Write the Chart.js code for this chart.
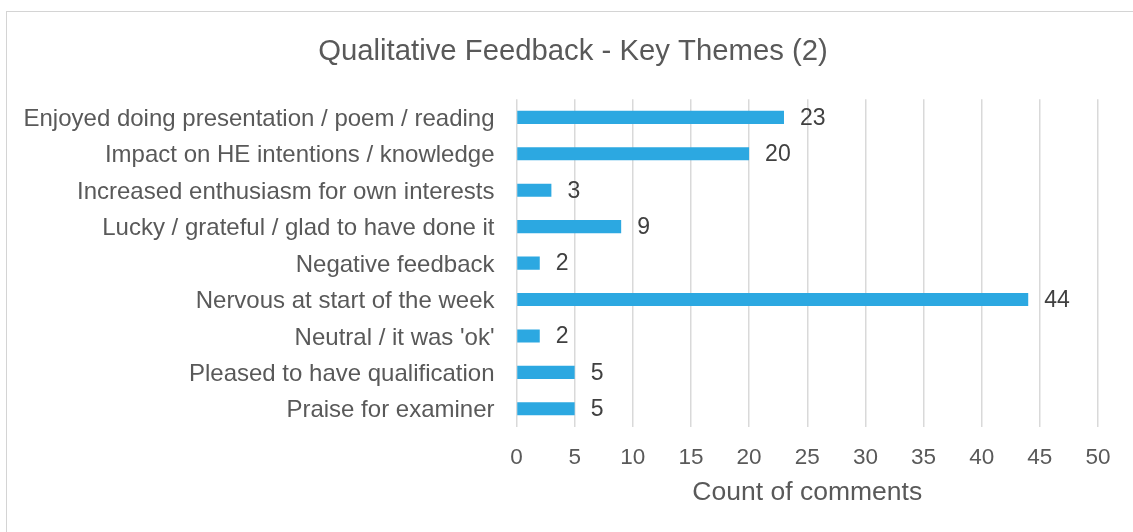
<!DOCTYPE html>
<html>
<head>
<meta charset="utf-8">
<script src="https://cdn.jsdelivr.net/npm/chart.js@4/dist/chart.umd.min.js"></script>
<style>
  html, body { margin: 0; padding: 0; background: #fff; overflow: hidden; }
  #frame { position: absolute; left: 6px; top: 11px; width: 1200px; height: 600px;
           border-left: 1px solid #d4d4d4; border-top: 1px solid #d4d4d4; }
  #wrap { position: absolute; left: 0; top: 0; width: 1133px; height: 532px; }
</style>
</head>
<body>
<div id="frame"></div>
<div id="wrap"><canvas id="themesChart"></canvas></div>
<script>
// categories top to bottom
const themes = [
    'Enjoyed doing presentation / poem / reading',
    'Impact on HE intentions / knowledge',
    'Increased enthusiasm for own interests',
    'Lucky / grateful / glad to have done it',
    'Negative feedback',
    'Nervous at start of the week',
    "Neutral / it was 'ok'",
    'Pleased to have qualification',
    'Praise for examiner'
];
const commentCounts = [23, 20, 3, 9, 2, 44, 2, 5, 5];
const xTicks = [0, 5, 10, 15, 20, 25, 30, 35, 40, 45, 50];

const chartTitle = 'Qualitative Feedback - Key Themes (2)';
const xAxisTitle = 'Count of comments';

const FONT = '"Liberation Sans", Arial, sans-serif';
const PAD_LEFT = 10;

// draws the number at the end of each bar
const barValues = {
    id: 'barValues',
    afterLayout(chart) {
        // title is centred on the whole chart box, not the padded area
        const t = chart.titleBlock;
        if (t) { t.left = 13; t.right = 1133; t.width = 1120; }
    },
    afterDatasetsDraw(chart) {
        const ctx = chart.ctx;
        ctx.save();
        ctx.font = '23px ' + FONT;
        ctx.fillStyle = '#404040';
        ctx.textAlign = 'left';
        ctx.textBaseline = 'middle';
        chart.data.datasets.forEach((ds, i) => {
            chart.getDatasetMeta(i).data.forEach((bar, j) => {
                ctx.fillText(String(ds.data[j]), bar.x + 16, bar.y + 1);
            });
        });
        ctx.restore();
    }
};

const data = {
    labels: themes,
    datasets: [{
        data: commentCounts,
        backgroundColor: '#2ca8e1',
        borderWidth: 0,
        categoryPercentage: 0.36,
        barPercentage: 1
    }]
};

const options = {
    indexAxis: 'y',
    responsive: false,
    animation: false,
    layout: { padding: { left: PAD_LEFT, right: 35, top: 0, bottom: 23 } },
    plugins: {
        legend: { display: false },
        tooltip: { enabled: false },
        title: {
            display: true,
            text: chartTitle,
            color: '#595959',
            font: { family: FONT, size: 29.3, weight: 'normal' },
            padding: { top: 34, bottom: 30 }
        }
    },
    scales: {
        x: {
            min: 0,
            max: 50,
            afterBuildTicks: s => { s.ticks = xTicks.map(v => ({ value: v })); },
            afterFit: s => { s.height = 82; },
            grid: { color: '#d9d9d9', lineWidth: 1.5, drawTicks: false },
            border: { display: false },
            ticks: {
                color: '#595959',
                padding: 17,
                maxRotation: 0,
                font: { family: FONT, size: 22.5 }
            },
            title: {
                display: true,
                text: xAxisTitle,
                color: '#595959',
                padding: 0,
                font: { family: FONT, size: 26.5 }
            }
        },
        y: {
            afterFit: s => { s.width = 516.5 - PAD_LEFT; },
            grid: { display: false, drawTicks: false },
            border: { display: false },
            ticks: {
                color: '#595959',
                padding: 22,
                labelOffset: 2,
                autoSkip: false,
                font: { family: FONT, size: 24 }
            }
        }
    }
};

const cv = document.getElementById('themesChart');
cv.width = 1133;
cv.height = 532;
new Chart(cv, { type: 'bar', data, options, plugins: [barValues] });
</script>
</body>
</html>
